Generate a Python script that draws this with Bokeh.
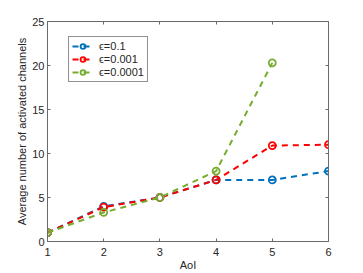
from bokeh.plotting import figure
from bokeh.models import (Legend, LegendItem, LinearAxis, Range1d, FixedTicker,
                          ColumnDataSource)
from bokeh.embed import file_html
from bokeh.resources import INLINE

# ---- data ----
aoi = [1, 2, 3, 4, 5, 6]
eps_01 = [1.0, 4.0, 5.0, 7.0, 7.0, 8.0]
eps_0001 = [1.0, 3.9, 5.0, 7.0, 10.9, 11.0]
aoi_short = [1, 2, 3, 4, 5]
eps_00001 = [1.0, 3.3, 5.0, 8.0, 20.3]
series_labels = ["\u03f5=0.1", "\u03f5=0.001", "\u03f5=0.0001"]
x_ticks = [1, 2, 3, 4, 5, 6]
y_ticks = [0, 5, 10, 15, 20, 25]

colors = ["#0072BD", "#FF0000", "#77AC30"]
FONT = "Liberation Sans"
TXT = "#262626"
AX = "#6a6a6a"

p = figure(frame_width=281, frame_height=220,
           min_border_left=47, min_border_top=21, min_border_right=35,
           min_border_bottom=32,
           x_range=Range1d(1, 6), y_range=Range1d(0, 25),
           output_backend="svg", toolbar_location=None,
           background_fill_color="white", border_fill_color="white")
p.outline_line_color = None
p.xgrid.visible = False
p.ygrid.visible = False

def style_axis(ax, ticks, show_labels=True):
    ax.ticker = FixedTicker(ticks=ticks)
    ax.axis_line_color = AX
    ax.axis_line_width = 1
    ax.major_tick_line_color = AX
    ax.major_tick_in = 3
    ax.major_tick_out = 0
    ax.minor_tick_line_color = None
    ax.major_label_text_font = FONT
    ax.major_label_text_font_size = "11px"
    ax.major_label_text_color = TXT
    ax.axis_label_text_font = FONT
    ax.axis_label_text_font_size = "11px"
    ax.axis_label_text_font_style = "normal"
    ax.axis_label_text_color = TXT
    if not show_labels:
        ax.major_label_overrides = {t: "" for t in ticks}
        ax.major_label_standoff = 0

style_axis(p.xaxis[0], x_ticks)
p.xaxis[0].major_label_standoff = 6
p.xaxis[0].axis_label = "AoI"
p.xaxis[0].axis_label_standoff = 0
style_axis(p.yaxis[0], y_ticks)
p.yaxis[0].major_label_standoff = 3
p.yaxis[0].axis_label = "Average number of activated channels"
p.yaxis[0].axis_label_standoff = 1

top = LinearAxis()
style_axis(top, x_ticks, show_labels=False)
p.add_layout(top, "above")
right = LinearAxis()
style_axis(right, y_ticks, show_labels=False)
p.add_layout(right, "right")

items = []
data = [(aoi, eps_01), (aoi, eps_0001), (aoi_short, eps_00001)]
for (xs, ys), c, lab in zip(data, colors, series_labels):
    src = ColumnDataSource(dict(x=xs, y=ys))
    l = p.line("x", "y", source=src, line_color=c, line_width=2, line_dash="6 5")
    m = p.scatter("x", "y", source=src, marker="circle", size=7,
                  line_color=c, line_width=1.8, fill_alpha=0)
    items.append(LegendItem(label=lab, renderers=[l, m]))

leg = Legend(items=items, location=(21, 159))
leg.label_text_font = FONT
leg.label_text_font_size = "11px"
leg.label_text_color = TXT
leg.border_line_color = "#262626"
leg.border_line_width = 1
leg.background_fill_color = "white"
leg.background_fill_alpha = 1
leg.padding = 3
leg.margin = 0
leg.spacing = 1
leg.glyph_width = 21
leg.glyph_height = 12
leg.label_height = 12
leg.label_standoff = 6
p.add_layout(leg, "center")

open("out.html", "w").write(file_html(p, INLINE))
